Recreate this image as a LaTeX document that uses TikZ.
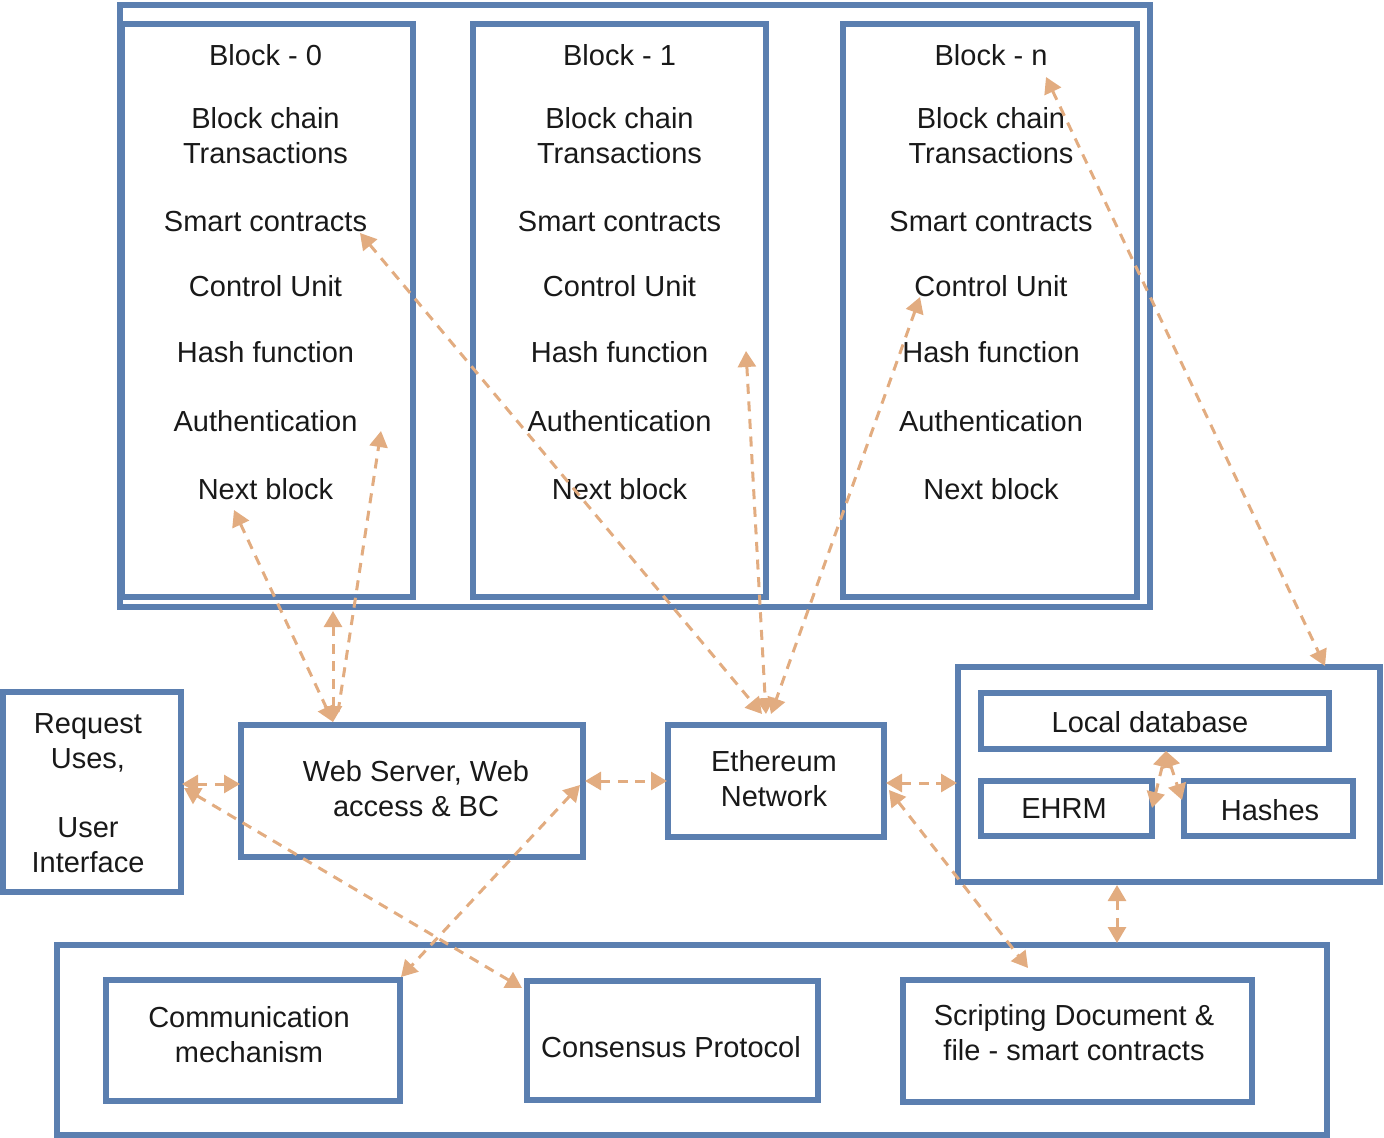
\documentclass[tikz,border=0pt]{standalone}
\usepackage{fontspec}
\setmainfont{Liberation Sans}
\usetikzlibrary{arrows.meta}
\definecolor{boxc}{RGB}{91,127,176}
\definecolor{arrc}{RGB}{226,172,128}
\begin{document}
\begin{tikzpicture}[x=0.5pt,y=-0.5pt,
 box/.style={draw=boxc,line width=2.6pt,inner sep=0pt,outer sep=0pt},
 txt/.style={font=\fontsize{14.5}{17.4}\selectfont,align=center,inner sep=0pt,text=black!90},
 tipA/.tip={Triangle[length=8pt,width=9pt]},
 conn/.style={draw=arrc,line width=1.5pt,dash pattern=on 5pt off 3.8pt,{tipA}-{tipA}},
 conn1/.style={draw=arrc,line width=1.5pt,dash pattern=on 5pt off 3.8pt,-{tipA}}]
\useasboundingbox (0,0) rectangle (1384,1138);

% top container and blocks
\node[box,minimum width=515pt,minimum height=301pt] (outerTop) at (635,306) {};
\foreach \n/\cx/\tx/\w/\lab in {b0/267.5/265.5/145.5/0, b1/619.5/619.5/146.5/1, bn/990/991/147/n} {
  \node[box,minimum width=\w pt,minimum height=286.5pt] (\n) at (\cx,310.5) {};
  \node[txt] (\n-t1) at (\tx,55) {Block - \lab};
  \node[txt] (\n-t2) at (\tx,135.5) {Block chain\\[0.1pt]Transactions};
  \node[txt] (\n-t3) at (\tx,222) {Smart contracts};
  \node[txt] (\n-t4) at (\tx,286) {Control Unit};
  \node[txt] (\n-t5) at (\tx,352) {Hash function};
  \node[txt] (\n-t6) at (\tx,421) {Authentication};
  \node[txt] (\n-t7) at (\tx,489) {Next block};
}

% middle row
\node[box,minimum width=89pt,minimum height=100pt] (req) at (92,792) {};
\node[txt] (reqT) at (88,793) {Request\\Uses,\\[17.4pt]User\\Interface};
\node[box,minimum width=171pt,minimum height=66pt] (web) at (412,791) {};
\node[txt] (webT) at (416,788.5) {Web Server, Web\\access \& BC};
\node[box,minimum width=108pt,minimum height=56pt] (eth) at (776,781) {};
\node[txt] (ethT) at (774,778.5) {Ethereum\\Network};
\node[box,minimum width=211pt,minimum height=107.5pt] (locout) at (1169,774.5) {};
\node[box,minimum width=174pt,minimum height=28pt] (locdb) at (1155,721) {};
\node[txt] (locdbT) at (1150,722) {Local database};
\node[box,minimum width=85.5pt,minimum height=27.5pt] (ehrm) at (1066.5,808.5) {};
\node[txt] (ehrmT) at (1064,809) {EHRM};
\node[box,minimum width=84.5pt,minimum height=27.5pt] (hash) at (1268.5,808.5) {};
\node[txt] (hashT) at (1270,810) {Hashes};

% bottom row
\node[box,minimum width=635pt,minimum height=95pt] (botout) at (692,1040) {};
\node[box,minimum width=147pt,minimum height=60.5pt] (comm) at (253,1040.5) {};
\node[txt] (commT) at (249,1034.5) {Communication\\mechanism};
\node[box,minimum width=145.5pt,minimum height=59.5pt] (cons) at (672.5,1040.5) {};
\node[txt] (consT) at (671,1047) {Consensus Protocol};
\node[box,minimum width=174.5pt,minimum height=61pt] (script) at (1077.5,1041) {};
\node[txt] (scriptT) at (1074,1032.5) {Scripting Document \&\\file - smart contracts};

% connector end points
\coordinate (nb0) at (234,510);
\coordinate (webA) at (333,722);
\coordinate (topB) at (333,611);
\coordinate (au0) at (381,431);
\coordinate (webB) at (338,712);
\coordinate (sc0) at (360,233);
\coordinate (ethA) at (762,714);
\coordinate (ethB) at (766,714);
\coordinate (ethC) at (771,714);
\coordinate (hf1) at (746,351);
\coordinate (cun) at (920,297);
\coordinate (bln) at (1046,77);
\coordinate (locTR) at (1325,666);
\coordinate (reqR) at (182,784);
\coordinate (webL) at (240,784);
\coordinate (reqR2) at (184,788);
\coordinate (consTL) at (522,988);
\coordinate (webR) at (585,781);
\coordinate (ethL) at (667,781);
\coordinate (webR2) at (580,785);
\coordinate (commTR) at (401,977);
\coordinate (ethR) at (886,783);
\coordinate (locL) at (957,783);
\coordinate (ethR2) at (889,790);
\coordinate (scrT) at (1028,968);
\coordinate (locB) at (1117,885);
\coordinate (botT) at (1117,943);
\coordinate (ehrmR) at (1152,808);
\coordinate (dbB) at (1166,751);
\coordinate (hashL) at (1182,800);

% connectors
\draw[conn] (nb0) -- (webA);
\draw[conn] (topB) -- (webA);
\draw[conn1] (webB) -- (au0);
\draw[conn] (sc0) -- (ethA);
\draw[conn] (hf1) -- (ethB);
\draw[conn] (cun) -- (ethC);
\draw[conn] (bln) -- (locTR);
\draw[conn] (reqR) -- (webL);
\draw[conn] (reqR2) -- (consTL);
\draw[conn] (webR) -- (ethL);
\draw[conn] (webR2) -- (commTR);
\draw[conn] (ethR) -- (locL);
\draw[conn] (ethR2) -- (scrT);
\draw[conn] (locB) -- (botT);
\draw[conn] (ehrmR) -- (dbB);
\draw[conn] (dbB) -- (hashL);
\end{tikzpicture}
\end{document}
